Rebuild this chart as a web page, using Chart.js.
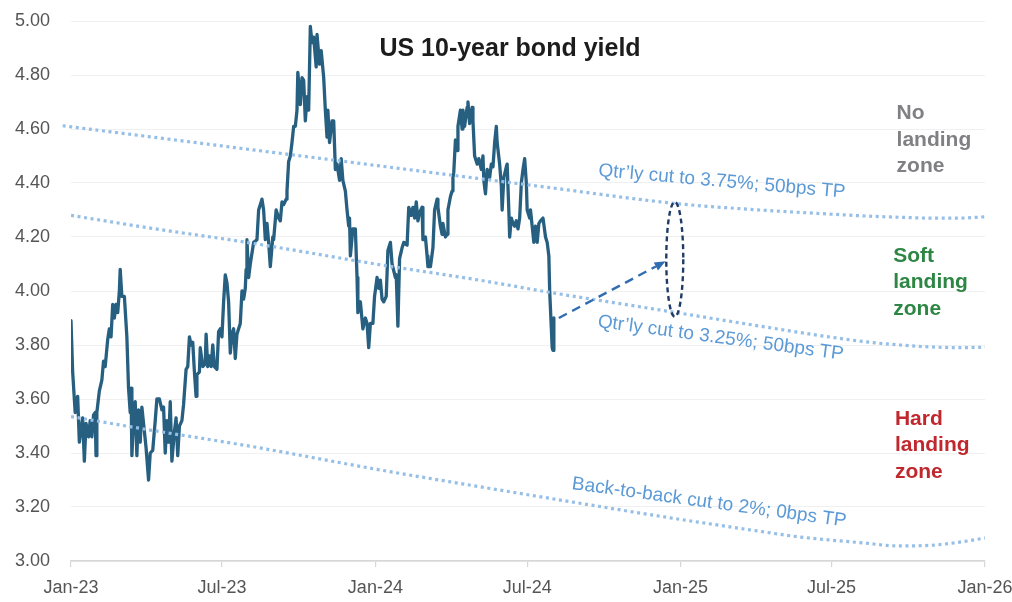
<!DOCTYPE html>
<html>
<head>
<meta charset="utf-8">
<script src="https://cdn.jsdelivr.net/npm/chart.js@4.4.1/dist/chart.umd.min.js"></script>
<style>
  html, body { margin: 0; padding: 0; background: #ffffff; }
  #wrap { width: 1012px; height: 602px; position: relative; }
</style>
</head>
<body>
<div id="wrap"><canvas id="chart" width="1012" height="602"></canvas></div>
<script>
// x values are days counted from 1 Jan 2023
const tickDays   = [0, 181, 365, 547, 731, 912, 1096];
const tickLabels = ['Jan-23', 'Jul-23', 'Jan-24', 'Jul-24', 'Jan-25', 'Jul-25', 'Jan-26'];
const yTicks     = [3.0, 3.2, 3.4, 3.6, 3.8, 4.0, 4.2, 4.4, 4.6, 4.8, 5.0];

const titleText = 'US 10-year bond yield';

// US 10-year Treasury yield, % : [day, yield]
const yieldSeries = [
  [0,3.89],[2,3.70],[5,3.55],[8,3.61],[10,3.44],[14,3.53],[16,3.37],[18,3.51],[21,3.46],[23,3.52],
  [25,3.46],[27,3.54],[29,3.55],[30,3.39],[31,3.55],[34,3.63],[37,3.67],[39,3.74],[41,3.72],[44,3.82],
  [46,3.86],[48,3.83],[50,3.95],[52,3.90],[54,3.95],[56,3.92],[58,4.00],[59,4.08],[61,3.98],[64,3.98],
  [67,3.83],[69,3.64],[71,3.55],[72,3.64],[73,3.39],[75,3.52],[77,3.59],[79,3.39],[81,3.56],[83,3.44],
  [85,3.57],[87,3.51],[90,3.42],[93,3.30],[95,3.40],[98,3.41],[101,3.52],[103,3.60],[106,3.60],[109,3.56],
  [111,3.57],[113,3.40],[115,3.52],[117,3.44],[119,3.59],[121,3.37],[124,3.48],[126,3.53],[128,3.39],[130,3.50],
  [133,3.52],[135,3.58],[138,3.71],[140,3.72],[142,3.83],[144,3.80],[146,3.81],[148,3.70],[150,3.61],[151,3.69],
  [154,3.70],[155,3.79],[158,3.72],[161,3.73],[162,3.84],[164,3.72],[166,3.76],[168,3.72],[170,3.80],[172,3.72],
  [175,3.71],[177,3.85],[179,3.86],[181,3.83],[183,3.96],[185,4.06],[187,4.03],[189,3.96],[191,3.77],[193,3.84],
  [195,3.86],[197,3.75],[199,3.84],[201,3.86],[203,3.88],[205,4.00],[207,3.97],[209,4.01],[210,4.08],[211,4.19],
  [213,4.05],[215,4.10],[219,4.18],[223,4.19],[225,4.30],[229,4.34],[231,4.30],[233,4.19],[235,4.25],[237,4.18],
  [239,4.09],[242,4.20],[243,4.19],[246,4.30],[249,4.27],[251,4.26],[253,4.33],[255,4.32],[258,4.34],[259,4.37],
  [261,4.48],[263,4.50],[265,4.55],[267,4.61],[269,4.61],[271,4.67],[272,4.81],[275,4.69],[277,4.79],[279,4.78],
  [281,4.63],[283,4.72],[285,4.67],[287,4.98],[289,4.92],[291,4.94],[294,4.83],[295,4.95],[298,4.84],[300,4.89],
  [303,4.79],[305,4.67],[307,4.57],[308,4.67],[310,4.55],[313,4.63],[315,4.63],[317,4.45],[319,4.47],[322,4.41],
  [324,4.49],[326,4.41],[329,4.37],[331,4.30],[333,4.24],[334,4.27],[335,4.13],[338,4.23],[341,4.23],[343,4.05],
  [344,3.92],[347,3.96],[350,3.86],[353,3.90],[355,3.88],[357,3.79],[359,3.88],[362,3.88],[364,3.98],[367,4.05],
  [369,4.01],[371,4.04],[373,3.97],[375,3.96],[378,3.98],[380,4.15],[383,4.18],[385,4.10],[389,4.05],[390,4.06],
  [392,3.87],[394,4.12],[397,4.16],[399,4.18],[403,4.17],[405,4.31],[408,4.28],[410,4.31],[412,4.27],[414,4.33],
  [416,4.26],[418,4.29],[421,4.31],[422,4.19],[425,4.20],[427,4.13],[428,4.09],[431,4.09],[434,4.16],[436,4.30],
  [439,4.34],[440,4.31],[443,4.24],[445,4.21],[446,4.25],[449,4.20],[451,4.21],[452,4.30],[455,4.35],[457,4.37],
  [458,4.42],[459,4.44],[461,4.56],[463,4.52],[464,4.61],[467,4.67],[469,4.60],[470,4.67],[472,4.61],[475,4.68],
  [476,4.70],[478,4.62],[481,4.68],[482,4.63],[484,4.50],[487,4.47],[489,4.49],[492,4.45],[494,4.50],[495,4.41],
  [497,4.36],[499,4.45],[502,4.42],[504,4.47],[506,4.46],[508,4.55],[510,4.61],[511,4.55],[514,4.47],[516,4.39],
  [517,4.30],[519,4.42],[522,4.46],[523,4.47],[525,4.30],[526,4.20],[528,4.27],[530,4.25],[532,4.24],[534,4.26],
  [536,4.23],[538,4.27],[540,4.40],[542,4.45],[544,4.49],[546,4.40],[547,4.30],[550,4.27],[551,4.30],[553,4.24],
  [555,4.18],[557,4.24],[559,4.18],[561,4.25],[563,4.26],[566,4.27],[567,4.27],[569,4.20],[571,4.18],[573,4.13],
  [574,4.00],[576,3.86],[577,3.79],[578,3.78],[579,3.90]
];

// Rate-cut scenario paths, % : [day, yield]
const pathQtr375 = [
  [-10,4.612],[95,4.571],[215,4.524],[371,4.463],[490,4.416],[574,4.383],[722,4.325],
  [826,4.30],[898,4.287],[958,4.277],[994,4.273],[1030,4.270],[1066,4.270],[1096,4.275]
];
const pathQtr325 = [
  [0,4.28],[95,4.233],[215,4.178],[371,4.097],[490,4.04],[574,3.995],[722,3.922],
  [826,3.87],[898,3.835],[958,3.81],[994,3.80],[1030,3.793],[1066,3.79],[1096,3.792]
];
const pathB2B = [
  [0,3.535],[95,3.485],[215,3.425],[371,3.337],[490,3.275],[610,3.214],[710,3.164],
  [826,3.11],[871,3.09],[950,3.067],[991,3.056],[1030,3.058],[1066,3.07],[1096,3.085]
];

// Labels along the scenario paths: anchor [day, yield] of the baseline start
const pathLabels = [
  { text: 'Qtr\u2019ly cut to 3.75%; 50bps TP', at: [632, 4.426], angle: 5.0 },
  { text: 'Qtr\u2019ly cut to 3.25%; 50bps TP', at: [631, 3.867], angle: 7.6 },
  { text: 'Back-to-back cut to 2%; 0bps TP',    at: [600, 3.267], angle: 7.8 }
];

// Zone captions: first-line anchor [day, yield]
const zoneLabels = [
  { lines: ['No', 'landing', 'zone'],   at: [990, 4.637], color: '#808084' },
  { lines: ['Soft', 'landing', 'zone'], at: [986, 4.109], color: '#2d8643' },
  { lines: ['Hard', 'landing', 'zone'], at: [988, 3.504], color: '#c0282e' }
];

// Projection arrow target and the range ellipse around the end-2024 outcome
const arrowTarget   = [713, 4.11];
const rangeEllipse  = { day: 724, low: 3.905, high: 4.33 };

const FONT = '"Liberation Sans", Arial, Helvetica, sans-serif';

const toXY = arr => arr.map(p => ({ x: p[0], y: p[1] }));

const dotted = {
  borderColor: '#96bfe7',
  borderWidth: 3.2,
  borderDash: [3, 3.6],
  pointRadius: 0,
  fill: false,
  cubicInterpolationMode: 'monotone',
  order: 0
};

const overlay = {
  id: 'overlay',
  afterDatasetsDraw(chart) {
    const { ctx } = chart;
    const xs = chart.scales.x, ys = chart.scales.y;
    const px = d => xs.getPixelForValue(d);
    const py = v => ys.getPixelForValue(v);
    ctx.save();

    // title
    ctx.font = 'bold 25px ' + FONT;
    ctx.fillStyle = '#1c1c1c';
    ctx.textAlign = 'center';
    ctx.textBaseline = 'alphabetic';
    ctx.fillText(titleText, 510, 56);

    // scenario labels
    ctx.font = '19px ' + FONT;
    ctx.fillStyle = '#5b9ad6';
    ctx.textAlign = 'left';
    pathLabels.forEach(l => {
      ctx.save();
      ctx.translate(px(l.at[0]), py(l.at[1]));
      ctx.rotate(l.angle * Math.PI / 180);
      ctx.fillText(l.text, 0, 0);
      ctx.restore();
    });

    // zone captions
    ctx.font = 'bold 21px ' + FONT;
    zoneLabels.forEach(z => {
      ctx.fillStyle = z.color;
      const x0 = px(z.at[0]), y0 = py(z.at[1]);
      z.lines.forEach((t, i) => ctx.fillText(t, x0, y0 + i * 26.5));
    });

    // dashed arrow from the latest reading
    const last = yieldSeries[yieldSeries.length - 1];
    const sx = px(last[0]) + 5, sy = py(last[1]);
    const ex = px(arrowTarget[0]), ey = py(arrowTarget[1]);
    const ang = Math.atan2(ey - sy, ex - sx);
    const head = 11;
    ctx.strokeStyle = '#2f6cb2';
    ctx.fillStyle = '#2f6cb2';
    ctx.lineWidth = 2.4;
    ctx.setLineDash([9, 6]);
    ctx.beginPath();
    ctx.moveTo(sx, sy);
    ctx.lineTo(ex - head * Math.cos(ang), ey - head * Math.sin(ang));
    ctx.stroke();
    ctx.setLineDash([]);
    ctx.beginPath();
    ctx.moveTo(ex, ey);
    ctx.lineTo(ex - head * Math.cos(ang) + 4.5 * Math.sin(ang), ey - head * Math.sin(ang) - 4.5 * Math.cos(ang));
    ctx.lineTo(ex - head * Math.cos(ang) - 4.5 * Math.sin(ang), ey - head * Math.sin(ang) + 4.5 * Math.cos(ang));
    ctx.closePath();
    ctx.fill();

    // range ellipse
    const cx = px(rangeEllipse.day);
    const top = py(rangeEllipse.high), bot = py(rangeEllipse.low);
    ctx.strokeStyle = '#1f3c66';
    ctx.lineWidth = 2.4;
    ctx.setLineDash([5, 3.5]);
    ctx.beginPath();
    ctx.ellipse(cx, (top + bot) / 2, 8.5, (bot - top) / 2, 0, 0, Math.PI * 2);
    ctx.stroke();

    ctx.restore();
  }
};

new Chart(document.getElementById('chart'), {
  type: 'line',
  data: {
    datasets: [
      Object.assign({ label: 'Qtr\u2019ly cut to 3.75%; 50bps TP', data: toXY(pathQtr375), clip: false }, dotted),
      Object.assign({ label: 'Qtr\u2019ly cut to 3.25%; 50bps TP', data: toXY(pathQtr325) }, dotted),
      Object.assign({ label: 'Back-to-back cut to 2%; 0bps TP', data: toXY(pathB2B) }, dotted),
      {
        label: titleText,
        data: toXY(yieldSeries),
        borderColor: '#265f80',
        borderWidth: 3.3,
        borderJoinStyle: 'round',
        borderCapStyle: 'round',
        pointRadius: 0,
        tension: 0,
        fill: false,
        order: 1
      }
    ]
  },
  options: {
    responsive: false,
    animation: false,
    events: [],
    layout: { padding: { left: 0, right: 27, top: 21, bottom: 0 } },
    plugins: { legend: { display: false }, tooltip: { enabled: false }, title: { display: false } },
    scales: {
      x: {
        type: 'linear',
        min: 0,
        max: 1096,
        afterBuildTicks: s => { s.ticks = tickDays.map(v => ({ value: v })); },
        afterFit: s => { s.height = 41; s.paddingLeft = 0; s.paddingRight = 0; },
        ticks: {
          autoSkip: false,
          maxRotation: 0,
          padding: 10,
          color: '#555555',
          font: { family: FONT, size: 18 },
          callback: (v, i) => tickLabels[i]
        },
        grid: { drawOnChartArea: false, color: '#d6d6d6', tickLength: 6, lineWidth: 1.2 },
        border: { color: '#d6d6d6', width: 1.5 }
      },
      y: {
        min: 3,
        max: 5,
        afterBuildTicks: s => { s.ticks = yTicks.map(v => ({ value: v })); },
        afterFit: s => { s.width = 71; s.paddingTop = 0; s.paddingBottom = 0; },
        ticks: {
          padding: 21,
          color: '#555555',
          font: { family: FONT, size: 18 },
          callback: v => Number(v).toFixed(2)
        },
        grid: { color: '#f0f0f0', drawTicks: false, lineWidth: 1 },
        border: { display: false }
      }
    }
  },
  plugins: [overlay]
});
</script>
</body>
</html>
